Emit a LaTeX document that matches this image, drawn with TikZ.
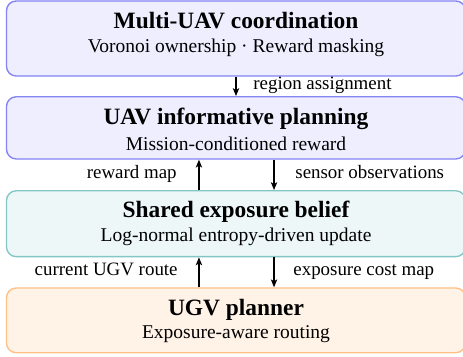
\documentclass[tikz,border=0pt]{standalone}
\usepackage{fontspec}
\setmainfont{Liberation Serif}
\usetikzlibrary{arrows.meta}
\definecolor{uavfill}{HTML}{EEEEFF}
\definecolor{uavdraw}{HTML}{8484F2}
\definecolor{belfill}{HTML}{EDF7F7}
\definecolor{beldraw}{HTML}{84C6C6}
\definecolor{ugvfill}{HTML}{FFF3E7}
\definecolor{ugvdraw}{HTML}{FFC085}
\tikzset{
  box/.style={rounded corners=5pt, line width=0.7pt, minimum width=235.4pt, inner sep=0pt},
  ttl/.style={anchor=base, inner sep=0pt, font=\large\bfseries},
  sub/.style={anchor=base, inner sep=0pt, font=\normalsize},
  lbl/.style={inner sep=0pt, font=\fontsize{9.7}{11}\selectfont},
  arr/.style={line width=0.9pt, -{Stealth[length=4pt,width=3.2pt,inset=0.9pt]}}
}
\begin{document}
\begin{tikzpicture}[x=0.5128pt,y=-0.5128pt]
\useasboundingbox (0,0) rectangle (463,356);
\node[box, fill=uavfill, draw=uavdraw, minimum height=38.5pt] (b1) at (236,38.5) {};
\node[box, fill=uavfill, draw=uavdraw, minimum height=31.9pt] (b2) at (236,127.85) {};
\node[box, fill=belfill, draw=beldraw, minimum height=33.8pt] (b3) at (236,223.7) {};
\node[box, fill=ugvfill, draw=ugvdraw, minimum height=33.2pt] (b4) at (236,320.35) {};

\node[ttl] (t1) at (236,28.3) {Multi-UAV coordination};
\node[sub] (s1) at (236,52.5) {Voronoi ownership · Reward masking};
\node[ttl] (t2) at (236,124.3) {UAV informative planning};
\node[sub] (s2) at (236,150) {Mission-conditioned reward};
\node[ttl] (t3) at (236,217.7) {Shared exposure belief};
\node[sub] (s3) at (236,241.7) {Log-normal entropy-driven update};
\node[ttl] (t4) at (236,315) {UGV planner};
\node[sub] (s4) at (236,338.3) {Exposure-aware routing};

\draw[arr] (b1.south) -- (b2.north);
\draw[arr] ([xshift=-19pt]b3.north) -- ([xshift=-19pt]b2.south);
\draw[arr] ([xshift=19.5pt]b2.south) -- ([xshift=19.5pt]b3.north);
\draw[arr] ([xshift=-19pt]b4.north) -- ([xshift=-19pt]b3.south);
\draw[arr] ([xshift=19.5pt]b3.south) -- ([xshift=19.5pt]b4.north);

\node[lbl, anchor=base west] (l1) at (253,89.5) {region assignment};
\node[lbl, anchor=base east] (l2) at (177,178) {reward map};
\node[lbl, anchor=base west] (l3) at (295,178) {sensor observations};
\node[lbl, anchor=base east] (l4) at (178,275) {current UGV route};
\node[lbl, anchor=base west] (l5) at (293,275) {exposure cost map};
\end{tikzpicture}
\end{document}
